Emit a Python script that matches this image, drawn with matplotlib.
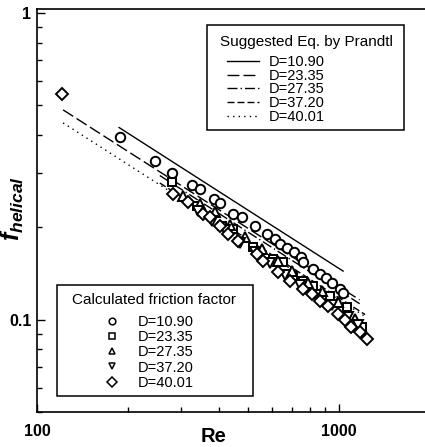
import numpy as np
import matplotlib
matplotlib.use("Agg")
import matplotlib.pyplot as plt
from matplotlib.lines import Line2D
from matplotlib.patches import Rectangle
from matplotlib.ticker import LogLocator, NullFormatter

plt.rcParams['font.family'] = ['Liberation Sans', 'DejaVu Sans']
plt.rcParams['mathtext.fontset'] = 'custom'
plt.rcParams['mathtext.it'] = 'Liberation Sans:italic:bold'
plt.rcParams['mathtext.rm'] = 'Liberation Sans:bold'
plt.rcParams['lines.scale_dashes'] = False

# curvature ratios
coil_labels = ['D=10.90', 'D=23.35', 'D=27.35', 'D=37.20', 'D=40.01']

# calculated friction factor (Re, f)
re_1090 = [188, 246, 280, 326, 347, 386, 404, 446, 477, 527, 578, 614, 638, 673,
           710, 749, 760, 820, 865, 906, 948, 1008, 1031]
f_1090 = [0.393, 0.328, 0.300, 0.274, 0.266, 0.247, 0.240, 0.221, 0.216, 0.202,
          0.190, 0.183, 0.1765, 0.1713, 0.1663, 0.1602, 0.1543, 0.1464, 0.1411,
          0.1369, 0.1318, 0.1260, 0.1224]

re_2335 = [280, 339, 410, 446, 519, 605, 653, 704, 760, 820, 934, 1063, 1192]
f_2335 = [0.2805, 0.2345, 0.2020, 0.1975, 0.1726, 0.1578, 0.1543, 0.1390,
          0.1338, 0.1289, 0.1196, 0.1102, 0.0949]

re_2735 = [304, 347, 389, 436, 488, 556, 628, 699, 790, 878, 992, 1130]
f_2735 = [0.2527, 0.2379, 0.2242, 0.2034, 0.1860, 0.1700, 0.1554, 0.1442,
          0.1318, 0.1242, 0.1144, 0.1007]

re_3720 = [341, 380, 419, 470, 527, 591, 663, 743, 839, 948, 1071, 1156]
f_3720 = [0.2259, 0.2097, 0.1960, 0.1778, 0.1663, 0.1531, 0.1400, 0.1299,
          0.1206, 0.1119, 0.1023, 0.0963]

re_4001 = [121, 282, 316, 355, 374, 404, 429, 463, 535, 560, 628, 688, 760, 814,
           865, 919, 992, 1047, 1096, 1174, 1238]
f_4001 = [0.546, 0.2565, 0.2415, 0.2210, 0.2160, 0.2020, 0.1900, 0.1805, 0.1637,
          0.1554, 0.1432, 0.1338, 0.1260, 0.1215, 0.1152, 0.1110, 0.1046, 0.100,
          0.0949, 0.0914, 0.0868]

# Prandtl correlation lines, end points (Re, f)
pr_re = [[187, 1031], [122, 1170], [255, 1170], [255, 1220], [122, 1220]]
pr_f = [[0.423, 0.144], [0.483, 0.116], [0.295, 0.1127], [0.279, 0.1039],
        [0.438, 0.1024]]

calc_re = [re_1090, re_2335, re_2735, re_3720, re_4001]
calc_f = [f_1090, f_2335, f_2735, f_3720, f_4001]
markers = ['o', 's', '^', 'v', 'D']
msizes = [6.8, 6.2, 6.8, 6.8, 6.0]
dashes = ['-', (0, (8.6, 2.9)), (0, (7.2, 2.2, 1.0, 2.2)), (0, (5.0, 2.2)),
          (0, (1.0, 3.0))]

fig = plt.figure(figsize=(4.25, 4.47), dpi=100)
ax = fig.add_axes([37 / 425, 1 - 412 / 447, 393 / 425, 403 / 447])

for k in range(5):
    ax.plot(pr_re[k], pr_f[k], color='k', lw=1.0, linestyle=dashes[k])

for k in range(5):
    ax.plot(calc_re[k], calc_f[k], linestyle='none', marker=markers[k],
            ms=msizes[k], mfc='white', mec='k', mew=1.4)

ax.set_xscale('log')
ax.set_yscale('log')
ax.set_xlim(100, 2000)
ax.set_ylim(0.05, 1.03)

ax.xaxis.set_minor_locator(LogLocator(base=10, subs=np.arange(2, 10)))
ax.xaxis.set_minor_formatter(NullFormatter())
ax.set_xticks([100, 1000])
ax.set_xticklabels(['100', '1000'])
ax.yaxis.set_minor_locator(LogLocator(base=10, subs=np.arange(2, 10)))
ax.yaxis.set_minor_formatter(NullFormatter())
ax.set_yticks([0.1, 1])
ax.set_yticklabels(['0.1', '1'])

ax.tick_params(which='both', direction='in', width=1.0)
ax.tick_params(which='major', length=6)
ax.tick_params(which='minor', length=3.5)
ax.tick_params(axis='x', pad=9, labelsize=11.5)
ax.tick_params(axis='y', pad=4, labelsize=11.5)
for lab in ax.get_xticklabels() + ax.get_yticklabels():
    lab.set_fontweight('bold')

for s in ['left', 'bottom', 'top']:
    ax.spines[s].set_linewidth(1.2)
ax.spines['right'].set_visible(False)

ax.set_xlabel('Re', fontsize=14.5, fontweight='bold')
ax.xaxis.set_label_coords(0.448, -0.061)
ax.xaxis.label.set_va('center')
ax.set_ylabel(r'$f_{helical}$', fontsize=18)
ax.yaxis.set_label_coords(-0.062, 0.505)
ax.yaxis.label.set_va('center')

# legend: Prandtl lines
line_handles = [Line2D([], [], color='k', lw=1.0, linestyle=d) for d in dashes]
leg1 = ax.legend(line_handles, coil_labels, loc='upper left',
                 bbox_to_anchor=(227 / 425, 1 - 55 / 447),
                 bbox_transform=fig.transFigure, frameon=False, borderpad=0,
                 borderaxespad=0, handlelength=2.2, handletextpad=0.69,
                 labelspacing=-0.02, fontsize=10.5)
ax.add_artist(leg1)
fig.add_artist(Rectangle((207 / 425, 1 - 130 / 447), 197 / 425, 105 / 447,
                         transform=fig.transFigure, fill=False, lw=1.1,
                         edgecolor='k'))
fig.text(306 / 425, 1 - 42 / 447, 'Suggested Eq. by Prandtl', ha='center',
         va='center', fontsize=11)

# legend: calculated values
mark_handles = [Line2D([], [], linestyle='none', marker=m, ms=4.8, mfc='white',
                       mec='k', mew=1.1) for m in markers]
leg2 = ax.legend(mark_handles, coil_labels, loc='upper left',
                 bbox_to_anchor=(104.7 / 425, 1 - 315 / 447),
                 bbox_transform=fig.transFigure, frameon=False, borderpad=0,
                 borderaxespad=0, handlelength=1.0, handletextpad=1.28,
                 labelspacing=0.08, fontsize=10.5)
fig.add_artist(Rectangle((57 / 425, 1 - 396 / 447), 196 / 425, 111 / 447,
                         transform=fig.transFigure, fill=False, lw=1.1,
                         edgecolor='k'))
fig.text(154 / 425, 1 - 300 / 447, 'Calculated friction factor', ha='center',
         va='center', fontsize=11)

fig.savefig('out.png', dpi=100)
